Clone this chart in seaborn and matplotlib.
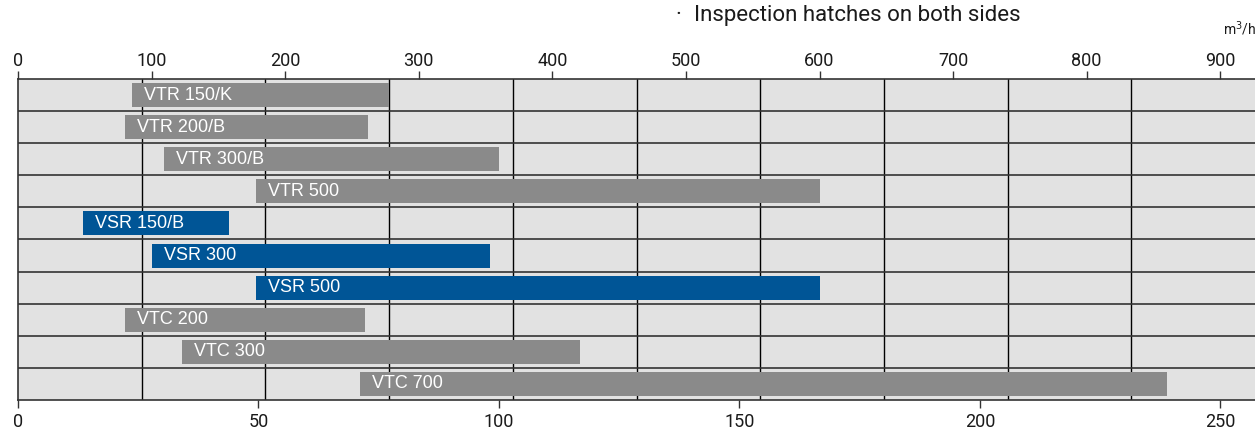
import matplotlib
matplotlib.use("Agg")
from matplotlib import pyplot as plt
import seaborn as sns
import pandas as pd

# range of each unit in m3/h (lower bar end, upper bar end)
models = ["VTR 150/K", "VTR 200/B", "VTR 300/B", "VTR 500", "VSR 150/B",
          "VSR 300", "VSR 500", "VTC 200", "VTC 300", "VTC 700"]
series = ["VTR", "VTR", "VTR", "VTR", "VSR", "VSR", "VSR", "VTC", "VTC", "VTC"]
flow_min = [85, 80, 109, 178, 49, 100, 178, 80, 123, 256]
flow_max = [278, 262, 360, 600, 158, 353, 600, 260, 421, 860]

m3h_ticks = [0, 100, 200, 300, 400, 500, 600, 700, 800, 900]
ls_ticks = [0, 50, 100, 150, 200, 250]

colors = {"VTR": "#8a8a8a", "VTC": "#8a8a8a", "VSR": "#005596"}
x_max = 926

df = pd.DataFrame({"model": models, "series": series,
                   "lo": flow_min, "hi": flow_max})

sns.set_theme(style="white")
plt.rcParams["font.family"] = ["Roboto", "DejaVu Sans"]

fig = plt.figure(figsize=(12.55, 4.32), dpi=100)
ax = fig.add_axes([18 / 1255, 32 / 432, 1237 / 1255, 321 / 432])
ax.set_facecolor("#e2e2e2")

sns.barplot(data=df, x="hi", y="model", hue="series", palette=colors,
            dodge=False, width=0.75, legend=False, saturation=1, ax=ax)

# turn the bars from 0..hi into lo..hi ranges
for p in ax.patches:
    i = int(round(p.get_y() + p.get_height() / 2))
    p.set_x(df.lo[i])
    p.set_width(df.hi[i] - df.lo[i])
    p.set_edgecolor("none")

for i, row in df.iterrows():
    ax.annotate(row.model, (row.lo, i), xytext=(12, 0), textcoords="offset pixels",
                ha="left", va="center", color="white", fontsize=13,
                family=["Liberation Sans", "DejaVu Sans"])

# grid: 10 equal columns, one line between each row
for k in range(1, 10):
    ax.axvline(x_max / 10 * k, color="black", lw=1, zorder=0.5)
for i in range(len(models) - 1):
    ax.axhline(i + 0.5, color="#333333", lw=1.2, zorder=0.5)

ax.set_xlim(0, x_max)
ax.set_ylim(len(models) - 0.5, -0.5)
ax.set_xlabel("")
ax.set_ylabel("")
ax.set_yticks([])

ax.xaxis.tick_top()
ax.set_xticks(m3h_ticks)
ax.tick_params(axis="x", top=True, bottom=False, direction="out", length=5.5,
               width=1, color="#333333", pad=1, labelsize=13, labelcolor="#1a1a1a")

for s in ["top", "bottom", "left"]:
    ax.spines[s].set_color("#333333")
    ax.spines[s].set_linewidth(1.2)
ax.spines["right"].set_visible(False)

sec = ax.secondary_xaxis("bottom", functions=(lambda x: x / 3.6, lambda x: x * 3.6))
sec.set_xticks(ls_ticks)
sec.tick_params(direction="out", length=6, width=1, color="#333333", pad=3.5,
                labelsize=13, labelcolor="#1a1a1a")
sec.spines["bottom"].set_visible(False)

fig.text(675 / 1255, 1 - 21 / 432, "·", ha="left", va="baseline",
         fontsize=16, color="#1a1a1a")
fig.text(694 / 1255, 1 - 21 / 432, "Inspection hatches on both sides",
         ha="left", va="baseline", fontsize=16, color="#1a1a1a")
fig.text(1223 / 1255, 1 - 34 / 432, r"m$^3$/h", ha="left", va="baseline",
         fontsize=10, color="#1a1a1a")

fig.savefig("out.png", dpi=100)
